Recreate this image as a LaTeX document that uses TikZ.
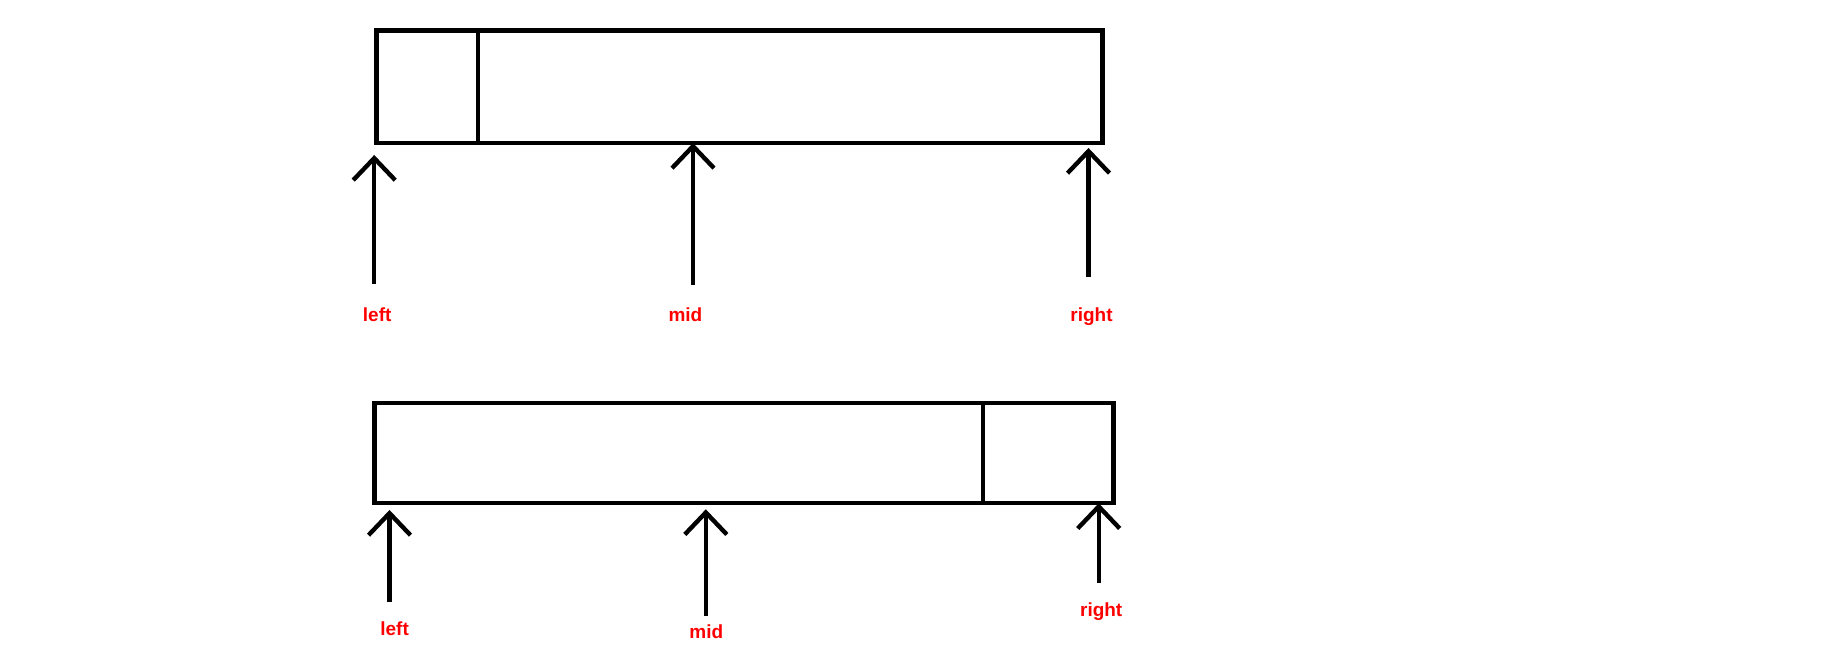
\documentclass[tikz,border=0pt]{standalone}
\usepackage{fontspec}
\setmainfont{Liberation Sans}
\usetikzlibrary{arrows.meta}

\begin{document}
\begin{tikzpicture}[
    box/.style={draw, line width=1.25pt, inner sep=0pt, anchor=north west},
    divider/.style={line width=1.25pt},
    ptr/.style={-{Straight Barb[length=2.2mm, width=4.2mm]}, line width=1.25pt},
    lbl/.style={text=red, anchor=base, inner sep=0pt, font=\bfseries\fontsize{5.4}{6}\selectfont}]
  \useasboundingbox (0,0) rectangle (18.43,-6.48);

  % first array: split near the left end
  \node[box, minimum width=7.26cm, minimum height=1.126cm] (arrA) at (3.743,-0.282) {};
  \draw[divider] (4.778,-0.282) -- (4.778,-1.408);

  \node[lbl] (leftA) at (3.772,-3.22) {left};
  \node[lbl] (midA) at (6.854,-3.22) {mid};
  \node[lbl] (rightA) at (10.915,-3.215) {right};

  \coordinate (leftAtail) at (3.742,-2.84);
  \coordinate (leftAtip) at (3.742,-1.55);
  \coordinate (midAtail) at (6.93,-2.85);
  \coordinate (midAtip) at (6.93,-1.43);
  \coordinate (rightAtail) at (10.885,-2.767);
  \coordinate (rightAtip) at (10.885,-1.48);

  \draw[ptr] (leftAtail) -- (leftAtip);
  \draw[ptr] (midAtail) -- (midAtip);
  \draw[ptr] (rightAtail) -- (rightAtip);

  % second array: split near the right end
  \node[box, minimum width=7.393cm, minimum height=0.997cm] (arrB) at (3.721,-4.01) {};
  \draw[divider] (9.829,-4.01) -- (9.829,-5.007);

  \node[lbl] (leftB) at (3.946,-6.357) {left};
  \node[lbl] (midB) at (7.063,-6.387) {mid};
  \node[lbl] (rightB) at (11.012,-6.167) {right};

  \coordinate (leftBtail) at (3.895,-6.023);
  \coordinate (leftBtip) at (3.895,-5.10);
  \coordinate (midBtail) at (7.058,-6.16);
  \coordinate (midBtip) at (7.058,-5.093);
  \coordinate (rightBtail) at (10.987,-5.827);
  \coordinate (rightBtip) at (10.987,-5.033);

  \draw[ptr] (leftBtail) -- (leftBtip);
  \draw[ptr] (midBtail) -- (midBtip);
  \draw[ptr] (rightBtail) -- (rightBtip);
\end{tikzpicture}
\end{document}
